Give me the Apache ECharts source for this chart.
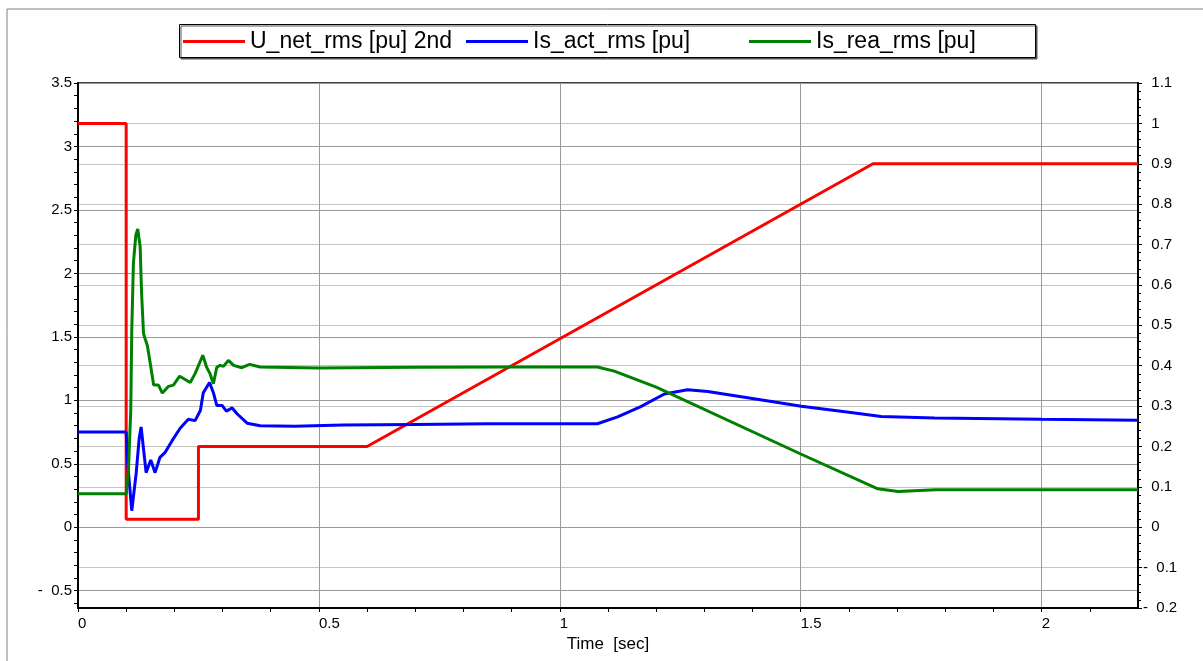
<!DOCTYPE html>
<html>
<head>
<meta charset="utf-8">
<script src="https://cdn.jsdelivr.net/npm/echarts@6/dist/echarts.min.js"></script>
<style>
  html, body { margin: 0; padding: 0; background: #fff; }
  #chart { width: 1203px; height: 661px; }
</style>
</head>
<body>
<div id="chart"></div>
<script>
// series names
const uNetName = 'U_net_rms [pu] 2nd'
const isActName = 'Is_act_rms [pu]'
const isReaName = 'Is_rea_rms [pu]'

// [time sec, value]
// U_net on the right axis
const uNetData = [
  [0, 1.0], [0.1, 1.0], [0.1, 0.02], [0.25, 0.02], [0.25, 0.2],
  [0.6, 0.2], [1.65, 0.9], [2.2, 0.9]
]
// Is_act on the left axis
const isActData = [
  [0, 0.75], [0.1, 0.75], [0.102, 0.55], [0.1116, 0.13], [0.1206, 0.42],
  [0.127, 0.7], [0.131, 0.79], [0.1414, 0.43], [0.151, 0.53], [0.16, 0.43],
  [0.17, 0.55], [0.181, 0.59], [0.195, 0.68], [0.212, 0.78], [0.229, 0.85],
  [0.243, 0.84], [0.254, 0.92], [0.26, 1.06], [0.273, 1.14], [0.281, 1.06],
  [0.288, 0.96], [0.299, 0.96], [0.308, 0.915], [0.32, 0.94], [0.33, 0.894],
  [0.351, 0.82], [0.378, 0.8], [0.45, 0.795], [0.55, 0.805], [0.7, 0.81],
  [0.85, 0.815], [1.0, 0.815], [1.078, 0.815], [1.12, 0.87], [1.168, 0.95],
  [1.217, 1.05], [1.265, 1.083], [1.307, 1.07], [1.446, 0.986], [1.501, 0.954],
  [1.6, 0.906], [1.667, 0.873], [1.778, 0.86], [2.0, 0.85], [2.2, 0.842]
]
// Is_rea on the left axis
const isReaData = [
  [0, 0.263], [0.1, 0.263], [0.1047, 0.45], [0.1095, 0.92], [0.1116, 1.55],
  [0.115, 2.08], [0.12, 2.3], [0.124, 2.35], [0.129, 2.21], [0.132, 1.84], [0.136, 1.525],
  [0.144, 1.43], [0.15, 1.29], [0.157, 1.12], [0.167, 1.12], [0.175, 1.057],
  [0.188, 1.11], [0.198, 1.12], [0.211, 1.19], [0.233, 1.14], [0.243, 1.21],
  [0.259, 1.355], [0.267, 1.26], [0.274, 1.21], [0.281, 1.13], [0.288, 1.26],
  [0.295, 1.275], [0.302, 1.267], [0.312, 1.315], [0.323, 1.275], [0.34, 1.257],
  [0.356, 1.283], [0.378, 1.262], [0.5, 1.255], [0.7, 1.26], [0.9, 1.262],
  [1.078, 1.262], [1.113, 1.23], [1.2, 1.104], [1.5, 0.577], [1.66, 0.303],
  [1.702, 0.282], [1.78, 0.295], [2.2, 0.295]
]

// axis ticks / labels
const xTicks = [0, 0.1, 0.2, 0.3, 0.4, 0.5, 0.6, 0.7, 0.8, 0.9, 1, 1.1, 1.2, 1.3, 1.4, 1.5, 1.6, 1.7, 1.8, 1.9, 2, 2.1]
const xLabels = [0, 0.5, 1, 1.5, 2]
const leftTicks = [-0.6, -0.5, -0.4, -0.3, -0.2, -0.1, 0, 0.1, 0.2, 0.3, 0.4, 0.5, 0.6, 0.7, 0.8, 0.9, 1, 1.1, 1.2, 1.3, 1.4, 1.5, 1.6, 1.7, 1.8, 1.9, 2, 2.1, 2.2, 2.3, 2.4, 2.5, 2.6, 2.7, 2.8, 2.9, 3, 3.1, 3.2, 3.3, 3.4, 3.5]
const leftLabels = [-0.5, 0, 0.5, 1, 1.5, 2, 2.5, 3, 3.5]
const leftMax = 3.5
const rightMin = -0.2
const rightMax = 1.1
// left axis shares the zero line with the right one
const leftMin = rightMin * leftMax / rightMax

const FONT = "'Liberation Sans', Arial, sans-serif"
const fmt = v => {
  const r = Math.round(v * 100) / 100
  return r < 0 ? '-  ' + Math.abs(r) : '  ' + r
}

const chart = echarts.init(document.getElementById('chart'))

const legendBase = {
  top: 30,
  padding: 0,
  icon: 'rect',
  itemWidth: 62,
  itemHeight: 3,
  textStyle: { fontFamily: FONT, fontSize: 23, color: '#000' }
}

const options = {
  animation: false,
  backgroundColor: '#fff',
  textStyle: { fontFamily: FONT },
  graphic: [
    {
      type: 'rect',
      shape: { x: 7, y: 9, width: 1250, height: 700 },
      style: { fill: null, stroke: '#808080', lineWidth: 1 },
      silent: true
    },
    {
      type: 'rect',
      shape: { x: 179.5, y: 24.5, width: 856, height: 33 },
      style: {
        fill: '#fff', stroke: '#000', lineWidth: 1,
        shadowColor: '#555', shadowOffsetX: 1.5, shadowOffsetY: 1.5, shadowBlur: 0
      },
      z: -1,
      silent: true
    }
  ],
  legend: [
    Object.assign({ left: 183, data: [uNetName] }, legendBase),
    Object.assign({ left: 466, data: [isActName] }, legendBase),
    Object.assign({ left: 749, data: [isReaName] }, legendBase)
  ],
  grid: {
    left: 78,
    right: 65,
    top: 83,
    bottom: 53,
    containLabel: false,
    outerBoundsMode: 'none',
    show: true,
    borderColor: '#000',
    borderWidth: 1.5,
    backgroundColor: 'transparent'
  },
  xAxis: [
    {
      type: 'value',
      min: 0,
      max: 2.2,
      name: 'Time  [sec]',
      nameLocation: 'middle',
      nameGap: 28,
      nameTextStyle: { fontFamily: FONT, fontSize: 17, color: '#000' },
      axisLine: { onZero: false, lineStyle: { color: '#000', width: 2 } },
      axisTick: { customValues: xTicks, length: 4, lineStyle: { color: '#000' } },
      axisLabel: {
        customValues: xLabels,
        align: 'left',
        margin: 8,
        fontSize: 15,
        fontFamily: FONT,
        color: '#000',
        formatter: v => String(v)
      },
      splitLine: { show: false }
    },
    {
      // only carries the vertical grid lines
      type: 'value',
      position: 'bottom',
      min: 0,
      max: 2.2,
      interval: 0.5,
      axisLine: { show: false },
      axisTick: { show: false },
      axisLabel: { show: false },
      splitLine: { show: true, lineStyle: { color: '#9a9a9a', width: 1 } }
    }
  ],
  yAxis: [
    {
      type: 'value',
      position: 'left',
      offset: 0,
      min: leftMin,
      max: leftMax,
      axisLine: { onZero: false, lineStyle: { color: '#000', width: 2 } },
      axisTick: { customValues: leftTicks, length: 4, lineStyle: { color: '#000' } },
      axisLabel: {
        customValues: leftLabels,
        margin: 6,
        fontSize: 15,
        fontFamily: FONT,
        color: '#000',
        formatter: fmt
      },
      splitLine: { show: false }
    },
    {
      type: 'value',
      position: 'right',
      offset: 0,
      min: rightMin,
      max: rightMax,
      interval: 0.1,
      axisLine: { onZero: false, lineStyle: { color: '#000', width: 2 } },
      axisTick: { length: 4, lineStyle: { color: '#000' } },
      minorTick: { show: true, splitNumber: 5, length: 3, lineStyle: { color: '#000' } },
      axisLabel: {
        margin: 5,
        align: 'left',
        fontSize: 15,
        fontFamily: FONT,
        color: '#000',
        formatter: fmt,
        showMinLabel: true,
        showMaxLabel: true
      },
      splitLine: { show: true, lineStyle: { color: '#c4c4c4', width: 1 } }
    },
    {
      // left-scale grid lines at 0.5 steps
      type: 'value',
      position: 'left',
      offset: 0,
      min: leftMin,
      max: leftMax,
      axisLine: { show: false },
      axisTick: { show: false, customValues: leftLabels },
      axisLabel: { show: false },
      splitLine: { show: true, lineStyle: { color: '#999', width: 1 } }
    }
  ],
  series: [
    {
      name: uNetName,
      type: 'line',
      xAxisIndex: 0,
      yAxisIndex: 1,
      symbol: 'none',
      color: '#ff0000',
      lineStyle: { width: 3 },
      data: uNetData
    },
    {
      name: isActName,
      type: 'line',
      xAxisIndex: 0,
      yAxisIndex: 0,
      symbol: 'none',
      color: '#0000ff',
      lineStyle: { width: 3 },
      data: isActData
    },
    {
      name: isReaName,
      type: 'line',
      xAxisIndex: 0,
      yAxisIndex: 0,
      symbol: 'none',
      color: '#008000',
      lineStyle: { width: 3 },
      data: isReaData
    }
  ]
}

chart.setOption(options, true)
</script>
</body>
</html>
